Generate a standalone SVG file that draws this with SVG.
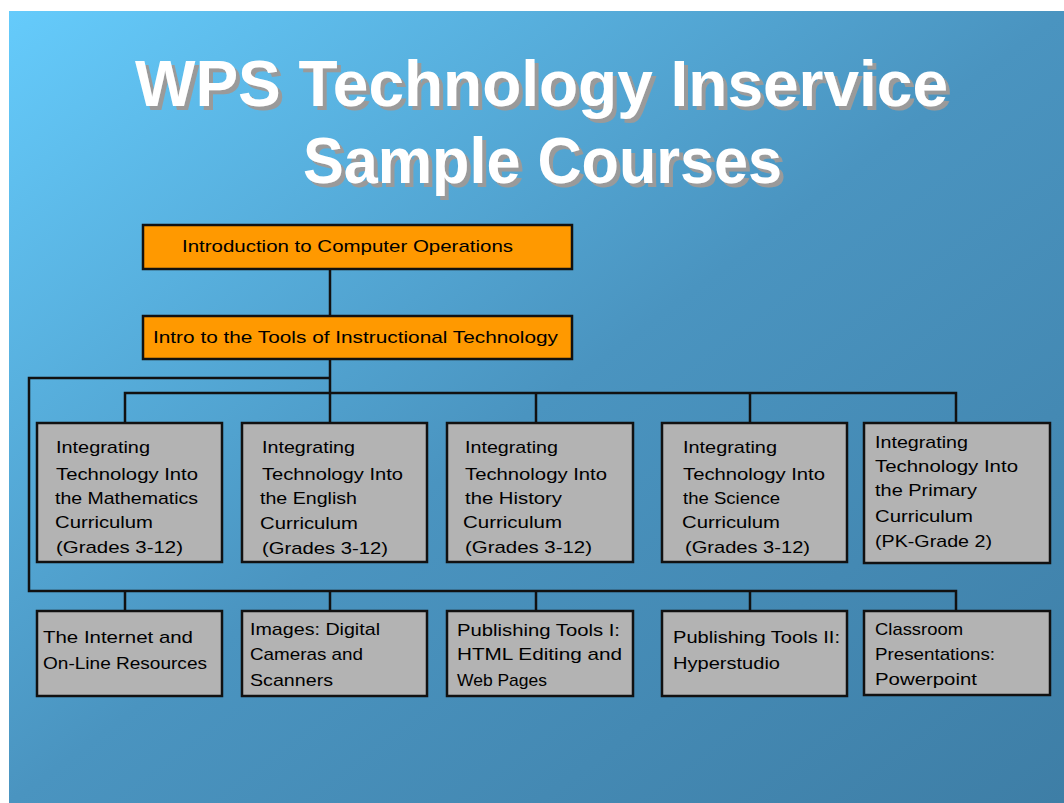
<svg xmlns="http://www.w3.org/2000/svg" width="1064" height="803" viewBox="0 0 1064 803">
<defs>
<linearGradient id="bg" x1="0" y1="0" x2="1" y2="1">
<stop offset="0" stop-color="#65cbfb"/>
<stop offset="0.5" stop-color="#4a94c0"/>
<stop offset="1" stop-color="#3e7ea6"/>
</linearGradient>
<filter id="shadow" x="-5%" y="-20%" width="115%" height="150%">
<feOffset in="SourceAlpha" dx="4" dy="4" result="off"/>
<feFlood flood-color="#9a9a9a"/>
<feComposite in2="off" operator="in" result="sh"/>
<feMerge><feMergeNode in="sh"/><feMergeNode in="SourceGraphic"/></feMerge>
</filter>
<style>
.title{font-family:"Liberation Sans",Arial,sans-serif;font-weight:bold;font-size:64px;fill:#ffffff;filter:url(#shadow)}
.box{fill:#b3b3b3;stroke:#111;stroke-width:2.5}
.obox{fill:#ff9900;stroke:#111;stroke-width:2.5}
.t{font-family:"Liberation Sans",Arial,sans-serif;font-size:17px;fill:#000}
.con{fill:none;stroke:#111;stroke-width:2.5}
</style>
</defs>
<rect x="0" y="0" width="1064" height="803" fill="#ffffff"/>
<rect x="9" y="11" width="1055" height="792" fill="url(#bg)"/>
<g id="title">
<text class="title" x="135" y="106" textLength="813" lengthAdjust="spacingAndGlyphs">WPS Technology Inservice</text>
<text class="title" x="303" y="183" textLength="479" lengthAdjust="spacingAndGlyphs">Sample Courses</text>
</g>
<g id="connectors">
<path class="con" d="M330 269V316"/>
<path class="con" d="M330 359V423"/>
<path class="con" d="M330 378H29V591H956V611"/>
<path class="con" d="M125 423V393H956V423"/>
<path class="con" d="M536 393V423M750 393V423"/>
<path class="con" d="M125 591V611M330 591V611M536 591V611M750 591V611"/>
</g>
<g id="n-intro-ops">
<rect class="obox" x="143" y="225" width="429" height="44"/>
<text class="t" x="182" y="252" textLength="331" lengthAdjust="spacingAndGlyphs">Introduction to Computer Operations</text>
</g>
<g id="n-intro-tools">
<rect class="obox" x="143" y="316" width="429" height="43"/>
<text class="t" x="153" y="343" textLength="405" lengthAdjust="spacingAndGlyphs">Intro to the Tools of Instructional Technology</text>
</g>
<g id="n-math">
<rect class="box" x="37" y="423" width="185" height="139"/>
<text class="t" x="56" y="453" textLength="94" lengthAdjust="spacingAndGlyphs">Integrating</text>
<text class="t" x="56" y="480" textLength="142" lengthAdjust="spacingAndGlyphs">Technology Into</text>
<text class="t" x="55" y="504" textLength="143" lengthAdjust="spacingAndGlyphs">the Mathematics</text>
<text class="t" x="55" y="528" textLength="98" lengthAdjust="spacingAndGlyphs">Curriculum</text>
<text class="t" x="56" y="553" textLength="127" lengthAdjust="spacingAndGlyphs">(Grades 3-12)</text>
</g>
<g id="n-english">
<rect class="box" x="242" y="423" width="185" height="139"/>
<text class="t" x="262" y="453" textLength="93" lengthAdjust="spacingAndGlyphs">Integrating</text>
<text class="t" x="262" y="480" textLength="141" lengthAdjust="spacingAndGlyphs">Technology Into</text>
<text class="t" x="260" y="504" textLength="97" lengthAdjust="spacingAndGlyphs">the English</text>
<text class="t" x="260" y="529" textLength="98" lengthAdjust="spacingAndGlyphs">Curriculum</text>
<text class="t" x="262" y="554" textLength="126" lengthAdjust="spacingAndGlyphs">(Grades 3-12)</text>
</g>
<g id="n-history">
<rect class="box" x="447" y="423" width="186" height="139"/>
<text class="t" x="465" y="453" textLength="93" lengthAdjust="spacingAndGlyphs">Integrating</text>
<text class="t" x="465" y="480" textLength="142" lengthAdjust="spacingAndGlyphs">Technology Into</text>
<text class="t" x="465" y="504" textLength="97" lengthAdjust="spacingAndGlyphs">the History</text>
<text class="t" x="463" y="528" textLength="99" lengthAdjust="spacingAndGlyphs">Curriculum</text>
<text class="t" x="465" y="553" textLength="127" lengthAdjust="spacingAndGlyphs">(Grades 3-12)</text>
</g>
<g id="n-science">
<rect class="box" x="662" y="423" width="185" height="139"/>
<text class="t" x="683" y="453" textLength="94" lengthAdjust="spacingAndGlyphs">Integrating</text>
<text class="t" x="683" y="480" textLength="142" lengthAdjust="spacingAndGlyphs">Technology Into</text>
<text class="t" x="683" y="504" textLength="97" lengthAdjust="spacingAndGlyphs">the Science</text>
<text class="t" x="682" y="528" textLength="98" lengthAdjust="spacingAndGlyphs">Curriculum</text>
<text class="t" x="685" y="553" textLength="125" lengthAdjust="spacingAndGlyphs">(Grades 3-12)</text>
</g>
<g id="n-primary">
<rect class="box" x="864" y="423" width="186" height="140"/>
<text class="t" x="875" y="448" textLength="93" lengthAdjust="spacingAndGlyphs">Integrating</text>
<text class="t" x="875" y="472" textLength="143" lengthAdjust="spacingAndGlyphs">Technology Into</text>
<text class="t" x="875" y="496" textLength="102" lengthAdjust="spacingAndGlyphs">the Primary</text>
<text class="t" x="875" y="522" textLength="98" lengthAdjust="spacingAndGlyphs">Curriculum</text>
<text class="t" x="875" y="547" textLength="117" lengthAdjust="spacingAndGlyphs">(PK-Grade 2)</text>
</g>
<g id="n-internet">
<rect class="box" x="37" y="611" width="185" height="85"/>
<text class="t" x="43" y="643" textLength="150" lengthAdjust="spacingAndGlyphs">The Internet and</text>
<text class="t" x="43" y="669" textLength="164" lengthAdjust="spacingAndGlyphs">On-Line Resources</text>
</g>
<g id="n-images">
<rect class="box" x="242" y="611" width="185" height="85"/>
<text class="t" x="250" y="635" textLength="130" lengthAdjust="spacingAndGlyphs">Images: Digital</text>
<text class="t" x="250" y="660" textLength="113" lengthAdjust="spacingAndGlyphs">Cameras and</text>
<text class="t" x="250" y="686" textLength="83" lengthAdjust="spacingAndGlyphs">Scanners</text>
</g>
<g id="n-pub1">
<rect class="box" x="447" y="611" width="186" height="85"/>
<text class="t" x="457" y="636" textLength="163" lengthAdjust="spacingAndGlyphs">Publishing Tools I:</text>
<text class="t" x="457" y="660" textLength="165" lengthAdjust="spacingAndGlyphs">HTML Editing and</text>
<text class="t" x="457" y="686" textLength="90" lengthAdjust="spacingAndGlyphs">Web Pages</text>
</g>
<g id="n-pub2">
<rect class="box" x="662" y="611" width="185" height="85"/>
<text class="t" x="673" y="643" textLength="167" lengthAdjust="spacingAndGlyphs">Publishing Tools II:</text>
<text class="t" x="673" y="669" textLength="107" lengthAdjust="spacingAndGlyphs">Hyperstudio</text>
</g>
<g id="n-classroom">
<rect class="box" x="864" y="611" width="186" height="84"/>
<text class="t" x="875" y="635" textLength="88" lengthAdjust="spacingAndGlyphs">Classroom</text>
<text class="t" x="875" y="660" textLength="120" lengthAdjust="spacingAndGlyphs">Presentations:</text>
<text class="t" x="875" y="685" textLength="102" lengthAdjust="spacingAndGlyphs">Powerpoint</text>
</g>
</svg>
